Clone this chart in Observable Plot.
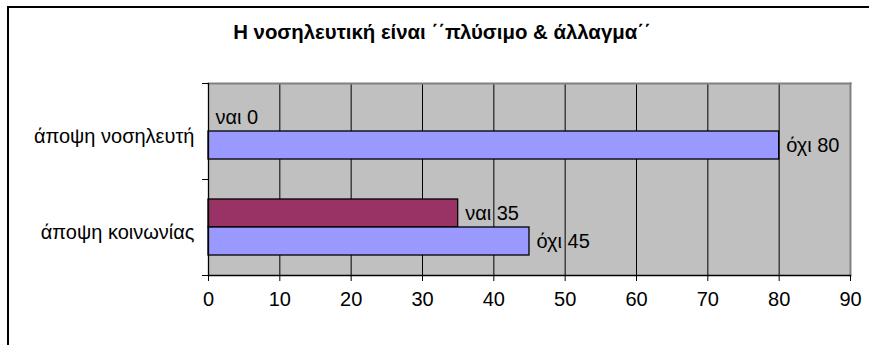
<!DOCTYPE html>
<html>
<head>
<meta charset="utf-8">
<script src="https://cdn.jsdelivr.net/npm/d3@7"></script>
<script src="https://cdn.jsdelivr.net/npm/@observablehq/plot@0.6"></script>
<style>
  body { margin: 0; background: #fff; }
  #chart { position: relative; width: 869px; height: 345px; overflow: hidden;
           font-family: "Liberation Sans", Arial, sans-serif; }
  #chart svg { position: absolute; left: 0; top: 0; }
  #border { position: absolute; left: 7px; top: 6px; width: 900px; height: 400px;
            border-left: 2px solid #000; border-top: 2px solid #000; }
  #title { position: absolute; left: 0; width: 884px; top: 21px; text-align: center;
           font-weight: bold; font-size: 20.4px; color: #000; }
</style>
</head>
<body>
<div id="chart"><div id="border"></div><div id="title"></div></div>
<script>
// Chart content
const title = "Η νοσηλευτική είναι ΄΄πλύσιμο & άλλαγμα΄΄";
const categories = ["άποψη νοσηλευτή", "άποψη κοινωνίας"];
const series = ["ναι", "όχι"];
const naiValues = [0, 35];
const oxiValues = [80, 45];
const xTicks = [0, 10, 20, 30, 40, 50, 60, 70, 80, 90];
const seriesColors = { "ναι": "#993366", "όχι": "#9999ff" };

document.getElementById("title").textContent = title;

// Long-format rows for the grouped bars
const rows = categories.flatMap((c, i) => [
  { category: c, series: "ναι", value: naiValues[i] },
  { category: c, series: "όχι", value: oxiValues[i] }
]);

// Layout
const W = 869, H = 345;
const margin = { top: 83, right: 19, bottom: 70, left: 208 };
const bandH = (H - margin.top - margin.bottom) / categories.length;
const fontSize = 20;

// Sub-band for each series inside a category band
const inner = d3.scaleBand().domain(series).range([0, bandH])
  .paddingInner(0).paddingOuter(0.714);
const insetsFor = s => ({
  insetTop: inner(s),
  insetBottom: bandH - inner(s) - inner.bandwidth()
});
const labelShift = s => inner(s) + inner.bandwidth() / 2 - bandH / 2;

const barMarks = series.map(s => Plot.barX(rows.filter(d => d.series === s), {
  y: "category", x: "value", fill: seriesColors[s],
  stroke: "#000", strokeWidth: 1.3, ...insetsFor(s)
}));
const labelMarks = series.map(s => Plot.text(rows.filter(d => d.series === s), {
  y: "category", x: "value", text: d => `${d.series} ${d.value}`,
  textAnchor: "start", dx: 7, dy: labelShift(s), fontSize, fill: "#000"
}));

const chart = Plot.plot({
  width: W, height: H,
  marginTop: margin.top, marginRight: margin.right,
  marginBottom: margin.bottom, marginLeft: margin.left,
  style: { fontSize: `${fontSize}px`, fontFamily: "Liberation Sans, Arial, sans-serif",
           color: "#000", background: "transparent", overflow: "visible" },
  x: { domain: [0, 90], label: null },
  y: { domain: categories, padding: 0, label: null },
  marks: [
    Plot.frame({ fill: "#c0c0c0", stroke: null }),
    Plot.gridX(xTicks.filter(t => t > 0 && t < 90), { stroke: "#000", strokeOpacity: 1 }),
    Plot.frame({ anchor: "top", stroke: "#808080", strokeWidth: 2 }),
    Plot.frame({ anchor: "right", stroke: "#808080", strokeWidth: 2 }),
    ...barMarks,
    ...labelMarks,
    Plot.frame({ anchor: "left", stroke: "#000", strokeWidth: 1.3 }),
    Plot.frame({ anchor: "bottom", stroke: "#000", strokeWidth: 1.3 }),
    // category separators on the value-less axis
    Plot.ruleY(categories, { y: d => d, x1: 0, x2: 0, insetLeft: -6, dy: -bandH / 2, stroke: "#000" }),
    Plot.ruleY(categories.slice(-1), { y: d => d, x1: 0, x2: 0, insetLeft: -6, dy: bandH / 2, stroke: "#000" }),
    Plot.axisX(xTicks, { tickSize: 6, tickPadding: 10, label: null, fontSize, tickFormat: d => String(d) }),
    Plot.axisY({ tickSize: 0, tickPadding: 14, dy: 5, label: null, fontSize })
  ]
});
document.getElementById("chart").prepend(chart);
</script>
</body>
</html>
